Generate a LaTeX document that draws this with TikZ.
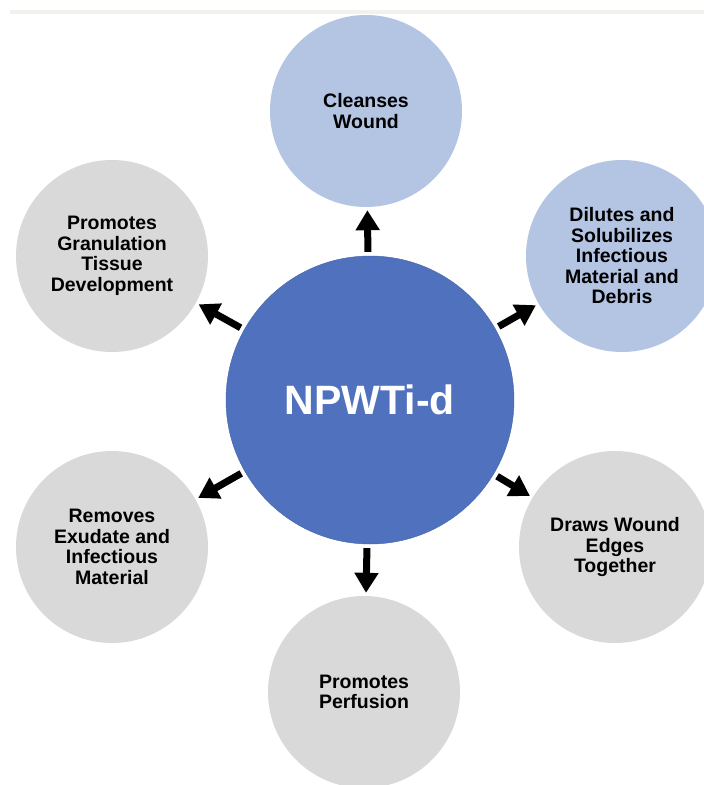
\documentclass[tikz,border=0pt]{standalone}
\usepackage{fontspec}
\setmainfont{Liberation Sans}
\usetikzlibrary{arrows.meta}

\definecolor{hubblue}{HTML}{4F71BE}
\definecolor{hubedge}{HTML}{4563A8}
\definecolor{paleblue}{HTML}{B4C5E4}
\definecolor{palegray}{HTML}{D9D9D9}
\definecolor{stripgray}{HTML}{F2F1EE}

\tikzset{
  effect/.style={circle,fill=palegray,minimum size=192pt,inner sep=0pt,align=center,
    font=\bfseries\fontsize{19.5}{20.5}\selectfont},
  push/.style={line width=7pt,-{Triangle[length=20pt,width=23pt]},shorten <=4pt,shorten >=3pt}
}

\begin{document}
\begin{tikzpicture}[x=1pt,y=-1pt]
    \clip (0,0) rectangle (704,785);
    \fill[white] (0,0) rectangle (704,785);
    \fill[stripgray] (10,10) rectangle (704,14);

    % centre and the six effects around it
    \node[circle,fill=hubblue,draw=hubedge,thin,minimum size=288pt,inner sep=0pt,text=white,
      font=\bfseries\fontsize{41}{45}\selectfont] (hub) at (370,400) {NPWTi-d};
    \node[effect,fill=paleblue] (cleanse) at (366,111) {Cleanses\\Wound};
    \node[effect,fill=paleblue] (dilute) at (622,256) {Dilutes and\\Solubilizes\\Infectious\\Material and\\Debris};
    \node[effect] (edges) at (615,547) {Draws Wound\\Edges\\Together};
    \node[effect] (perfuse) at (364,692) {Promotes\\Perfusion};
    \node[effect] (exudate) at (112,547) {Removes\\Exudate and\\Infectious\\Material};
    \node[effect] (granul) at (112,256) {Promotes\\Granulation\\Tissue\\Development};

    \foreach \t in {cleanse,dilute,edges,perfuse,exudate,granul}
      \draw[push] (hub) -- (\t);
\end{tikzpicture}
\end{document}
